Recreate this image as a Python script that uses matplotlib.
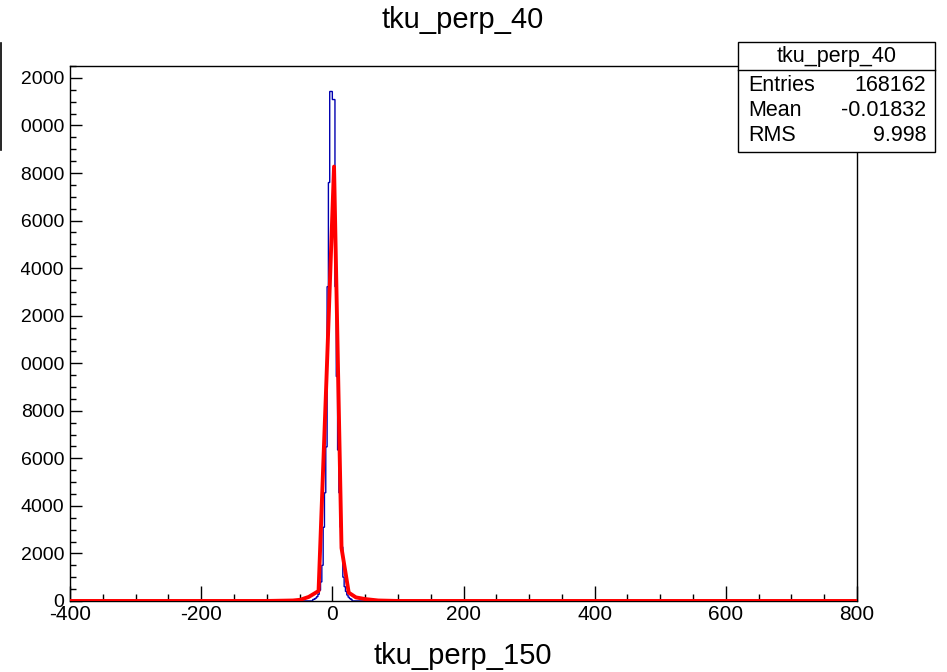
import numpy as np
import matplotlib
matplotlib.use("Agg")
import matplotlib.pyplot as plt
from matplotlib.lines import Line2D
from matplotlib.patches import Rectangle
from matplotlib.ticker import MultipleLocator

plt.rcParams['font.family'] = ['Liberation Sans', 'DejaVu Sans']
plt.rcParams['axes.unicode_minus'] = False

# histogram: 600 bins of width 2 over [-400, 800], non-zero bins listed from -30
x_lo, x_hi, bin_w = -400, 800, 2
peak_first_edge = -30
peak_counts = [60, 80, 120, 180, 280, 450, 800, 1500, 3100, 4550,
               6480, 13220, 17600, 21430, 21430, 21090, 21090, 13220, 9440, 6350,
               4550, 3100, 2270, 1000, 600, 400, 250, 160, 100, 70]

# fitted function, sampled points
fit_x = [-400, -100, -60, -49, -36, -21, -9, 2.6, 14, 25, 36, 50, 70, 100, 800]
fit_y = [0, 0, 20, 50, 170, 420, 9300, 18270, 2230, 350, 150, 80, 20, 0, 0]

title = "tku_perp_40"
xlabel = "tku_perp_150"
stats_names = ["Entries", "Mean", "RMS"]
stats_values = ["168162", "-0.01832", "9.998"]

edges = np.arange(x_lo, x_hi + bin_w, bin_w)
counts = np.zeros(len(edges) - 1)
i0 = (peak_first_edge - x_lo) // bin_w
counts[i0:i0 + len(peak_counts)] = peak_counts

fig = plt.figure(figsize=(9.47, 6.72), dpi=100)
ax = fig.add_axes([0.0739, 0.1057, 0.9050 - 0.0739, 0.9018 - 0.1057])

ax.stairs(counts, edges, color='#0000b0', lw=1.0, zorder=2)
ax.plot(fit_x, fit_y, color='#ff0000', lw=2.8, zorder=3)

ax.set_xlim(x_lo, x_hi)
ax.set_ylim(0, counts.max() * 1.05)

ax.xaxis.set_major_locator(MultipleLocator(200))
ax.xaxis.set_minor_locator(MultipleLocator(50))
ax.yaxis.set_major_locator(MultipleLocator(2000))
ax.yaxis.set_minor_locator(MultipleLocator(500))
ax.tick_params(axis='x', which='major', direction='in', length=11, width=1,
               labelsize=15, pad=3)
ax.tick_params(axis='x', which='minor', direction='in', length=5, width=1)
ax.tick_params(axis='y', which='major', direction='in', length=8.6, width=1,
               labelsize=14, pad=4)
ax.tick_params(axis='y', which='minor', direction='in', length=4.3, width=1)
ax.tick_params(top=False, right=False, which='both')
for s in ax.spines.values():
    s.set_linewidth(1)

fig.text(0.489, 0.970, title, ha='center', va='center', fontsize=21)
fig.text(0.489, 0.024, xlabel, ha='center', va='center', fontsize=21)

# stats box
bx0, bx1, by0, by1 = 0.779, 0.987, 0.774, 0.9375
fig.add_artist(Rectangle((bx0, by0), bx1 - bx0, by1 - by0, transform=fig.transFigure,
                         facecolor='white', edgecolor='black', lw=1, zorder=5))
fig.add_artist(Line2D([bx0, bx1], [0.896, 0.896], transform=fig.transFigure,
                      color='black', lw=1, zorder=6))
fig.text((bx0 + bx1) / 2, 0.916, title, ha='center', va='center', fontsize=15.5, zorder=7)
for name, val, yy in zip(stats_names, stats_values, [0.8735, 0.836, 0.798]):
    fig.text(0.790, yy, name, ha='left', va='center', fontsize=15.5, zorder=7)
    fig.text(0.978, yy, val, ha='right', va='center', fontsize=15.5, zorder=7)

# the left strip of the canvas is cut off (labels clipped there)
fig.add_artist(Rectangle((0, 0), 21 / 947, 1, transform=fig.transFigure,
                         facecolor='white', edgecolor='none', zorder=10))
fig.add_artist(Line2D([1.2 / 947, 1.2 / 947], [1 - 43 / 672, 1 - 150 / 672],
                      transform=fig.transFigure, color='black', lw=1.2, zorder=11))

fig.savefig("out.png", dpi=100)
